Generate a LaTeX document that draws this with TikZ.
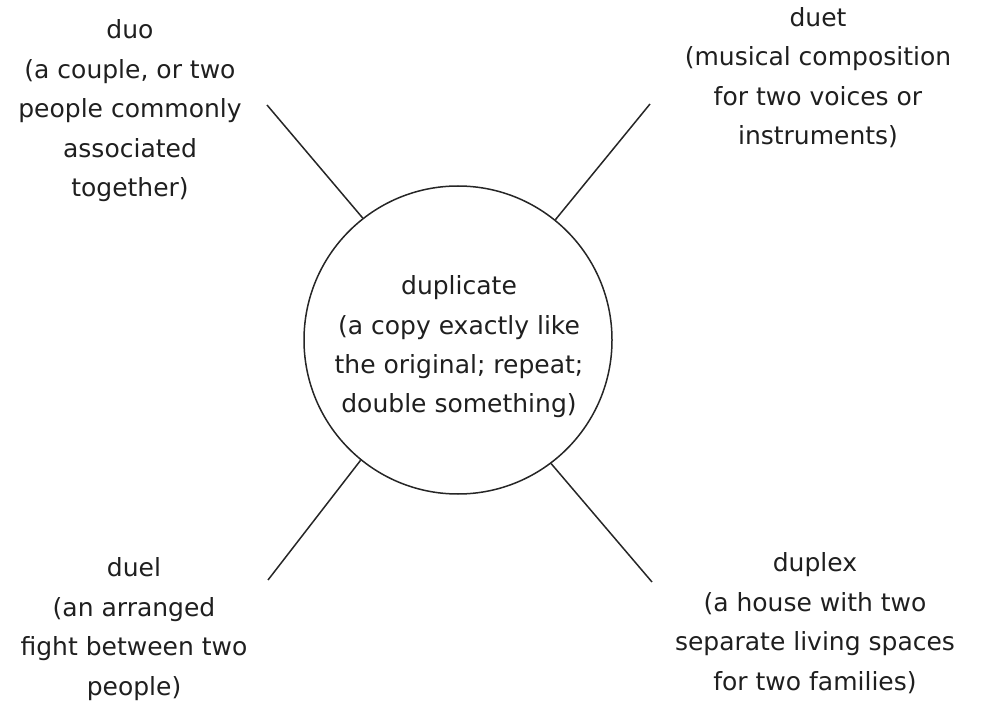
\documentclass[tikz,border=0pt]{standalone}
\usepackage{fontspec}
\setmainfont{DejaVu Sans}
\begin{document}
\begin{tikzpicture}[x=1pt,y=-1pt,
  lbl/.style={align=center,anchor=base,inner sep=0pt,text=black!88,
    font=\fontsize{25}{39.5}\selectfont},
  conn/.style={line width=1.5pt,black!85}]
\useasboundingbox (0,0) rectangle (991,711);
\node[draw=black!85,line width=1.5pt,circle,minimum size=308pt,inner sep=0pt] (c) at (458,340) {};
\node[lbl] (ctext) at (459,413) {duplicate\\(a copy exactly like\\the original; repeat;\\double something)};
\node[lbl] (duo) at (130,197) {duo\\(a couple, or two\\people commonly\\associated\\together)};
\node[lbl] (duet) at (818,145) {duet\\(musical composition\\for two voices or\\instruments)};
\node[lbl] (duel) at (134,695) {duel\\(an arranged\\fight between two\\people)};
\node[lbl] (duplex) at (815,690) {duplex\\(a house with two\\separate living spaces\\for two families)};
\coordinate (tl) at (267,105);
\coordinate (tr) at (650,104);
\coordinate (bl) at (268,580);
\coordinate (br) at (652,582);
\draw[conn] (c.128.7) -- (tl);
\draw[conn] (c.51.3) -- (tr);
\draw[conn] (c.231.6) -- (bl);
\draw[conn] (c.307.9) -- (br);
\end{tikzpicture}
\end{document}
